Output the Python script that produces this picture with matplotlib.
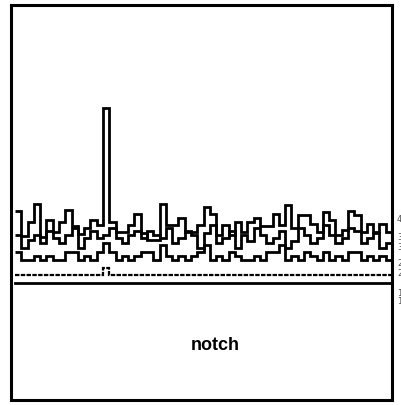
import numpy as np
import matplotlib
matplotlib.use("Agg")
import matplotlib.pyplot as plt

# amplitude of the upper trace, one value per sample bin
upper = [18.9, 16.4, 17.8, 19.6, 16.3, 18.0, 16.8, 17.8, 19.0, 17.4,
         16.6, 17.2, 18.0, 17.5, 29.2, 17.8, 16.8, 16.8, 17.5, 18.6,
         16.7, 16.0, 16.0, 19.6, 17.5, 17.5, 18.2, 16.8, 16.8, 17.5,
         19.3, 18.6, 16.5, 17.5, 16.5, 17.8, 16.8, 17.8, 18.2, 17.4,
         17.4, 18.6, 17.5, 19.5, 17.2, 18.5, 18.5, 17.6, 16.8, 18.8,
         18.0, 16.5, 17.0, 18.9, 18.5, 16.8, 17.6, 16.8, 17.6, 16.8]

# second trace sharing the upper band
middle = [16.5, 15.2, 16.0, 16.5, 15.7, 16.9, 16.2, 15.7, 16.5, 17.2,
          15.2, 16.2, 16.9, 16.2, 16.5, 17.2, 16.2, 15.7, 16.5, 16.9,
          16.2, 16.9, 16.5, 16.2, 17.2, 15.7, 16.2, 16.9, 16.5, 15.2,
          16.7, 17.5, 15.7, 16.2, 16.9, 15.2, 16.5, 15.9, 17.2, 16.5,
          15.7, 16.2, 16.9, 15.2, 15.9, 17.2, 16.5, 15.7, 16.2, 17.5,
          16.5, 15.7, 16.2, 17.2, 16.9, 15.7, 16.2, 16.7, 15.2, 15.7]

# amplitude of the lower trace
lower = [14.8, 14.0, 14.0, 14.4, 14.0, 14.4, 14.0, 14.0, 14.8, 14.8,
         14.0, 14.4, 14.0, 14.8, 15.7, 14.8, 14.0, 14.4, 14.0, 14.4,
         14.8, 14.8, 14.0, 15.5, 14.4, 14.0, 14.4, 14.0, 14.4, 14.8,
         15.5, 14.0, 14.4, 14.0, 14.8, 14.4, 14.0, 14.0, 14.4, 14.0,
         14.8, 14.8, 15.5, 14.0, 14.4, 14.0, 14.8, 14.4, 14.0, 14.8,
         14.0, 14.4, 14.0, 14.8, 14.8, 14.0, 14.4, 14.0, 14.4, 14.0]

# notch trace (dashed) and baseline
notch_edges = [0, 14, 15, 60]
notch_vals = [12.5, 13.2, 12.5]
baseline = 11.7

side_labels = ["4", "3", "3", "2", "2", "1", "1"]
side_pos = [18.0, 16.2, 15.2, 13.7, 12.7, 10.7, 9.8]

fig = plt.figure(figsize=(4.02, 4.05), dpi=100)
ax = fig.add_axes([11 / 402, 5 / 405, 381 / 402, 395 / 405])

edges = np.arange(len(upper) + 1)
ax.stairs(middle, edges, color="black", lw=2.0, baseline=None)
ax.stairs(upper, edges, color="black", lw=2.0, baseline=None)
ax.stairs(lower, edges, color="black", lw=2.0, baseline=None)
ax.stairs(notch_vals, notch_edges, color="black", lw=1.6, ls=(0, (2, 0.6)),
          baseline=None)
ax.plot([0, len(upper)], [baseline, baseline], color="black", lw=2.0)

ax.set_xlim(-0.64, 60)
ax.set_ylim(0, 39.5)
ax.set_xticks([])
ax.set_yticks([])
for s in ax.spines.values():
    s.set_linewidth(2.2)

ax.text(0.535, 0.137, "notch", transform=ax.transAxes, ha="center",
        va="center", fontsize=13, fontweight="bold",
        family=["Liberation Sans", "DejaVu Sans"])

for lab, y in zip(side_labels, side_pos):
    ax.text(1.013, y, lab, transform=ax.get_yaxis_transform(), fontsize=6,
            color="#555555", va="center", ha="left", clip_on=False)

fig.savefig("out.png", dpi=100)
